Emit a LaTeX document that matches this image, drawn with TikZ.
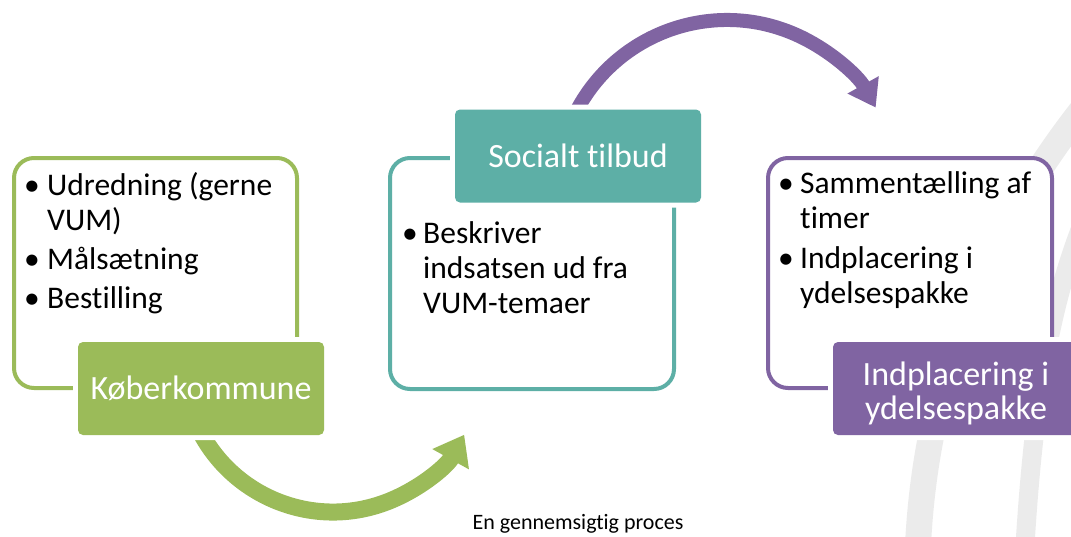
\documentclass[tikz,border=0pt]{standalone}
\usepackage{fontspec}
\setmainfont{Carlito}[Ligatures={NoCommon}]
\usetikzlibrary{arrows.meta,calc}
\definecolor{kgreen}{HTML}{9BBB59}
\definecolor{kteal}{HTML}{5DAFA6}
\definecolor{kpurple}{HTML}{8064A2}
\definecolor{kgray}{HTML}{EBEBEB}
\begin{document}
\begin{tikzpicture}[x=1pt,y=-1pt,
  outline/.style={draw=#1, line width=4pt, rounded corners=20pt, fill=white, inner sep=0pt, anchor=north west},
  lbox/.style={fill=#1, rounded corners=5pt, minimum width=246pt, minimum height=93pt, inner sep=0pt,
    text=white, font=\fontsize{34}{34}\selectfont, align=center,
    preaction={draw=white, line width=10pt}},
  body/.style={font=\fontsize{31.5}{35}\selectfont, inner sep=0pt, anchor=north west},
  bgstroke/.style={draw=kgray},
  flow/.style={line width=#1}
]
\useasboundingbox (0,0) rectangle (1071,536);
\clip (0,0) rectangle (1071,536);

% background decoration
\draw[bgstroke, line width=26pt] (1090,100) .. controls (985,230) and (926,380) .. (918,545);
\draw[bgstroke, line width=19pt] (1088,210) .. controls (1050,300) and (1034,400) .. (1025,545);

% outline boxes
\node[outline=kgreen, minimum width=283pt, minimum height=230pt] (b1) at (12,156) {};
\node[outline=kteal, minimum width=284pt, minimum height=231pt] (b2) at (388,156) {};
\node[outline=kpurple, minimum width=284pt, minimum height=230pt] (b3) at (766,156) {};

% arrows
\coordinate (gc) at (333,362);
\coordinate (pc) at (727,190);
\draw[kgreen, flow=17pt, -{Triangle[width=40pt,length=28pt]}] ($(gc)+(160:150)$) arc[start angle=160, end angle=29, radius=150];
\draw[kpurple, flow=14pt, -{Triangle[width=34pt,length=26pt]}] ($(pc)+(205:170)$) arc[start angle=205, end angle=331, radius=170];

% label boxes
\node[lbox=kgreen] (l1) at (201,388.5) {Køberkommune};
\node[lbox=kteal] (l2) at (578,156) {Socialt tilbud};
\node[lbox=kpurple] (l3) at (956,388.5) {\rule{0pt}{33pt}Indplacering i\\ydelsespakke};

% bullet texts
\node[body] (t1) at (24,170.5) {\begin{tabular}{@{}p{23pt}@{}l@{}}
\textbullet & Udredning (gerne\\
 & VUM)\\[4pt]
\textbullet & Målsætning\\[4pt]
\textbullet & Bestilling
\end{tabular}};
\node[body] (t2) at (402,218.5) {\begin{tabular}{@{}p{21pt}@{}l@{}}
\textbullet & Beskriver\\
 & indsatsen ud fra\\
 & VUM-temaer
\end{tabular}};
\node[body] (t3) at (778,168.5) {\begin{tabular}{@{}p{22pt}@{}l@{}}
\textbullet & Sammentælling af\\
 & timer\\[5pt]
\textbullet & Indplacering i\\
 & ydelsespakke
\end{tabular}};

% caption
\node[font=\fontsize{22}{24}\selectfont, anchor=base, inner sep=0pt] (cap) at (578,529) {En gennemsigtig proces};
\end{tikzpicture}
\end{document}
